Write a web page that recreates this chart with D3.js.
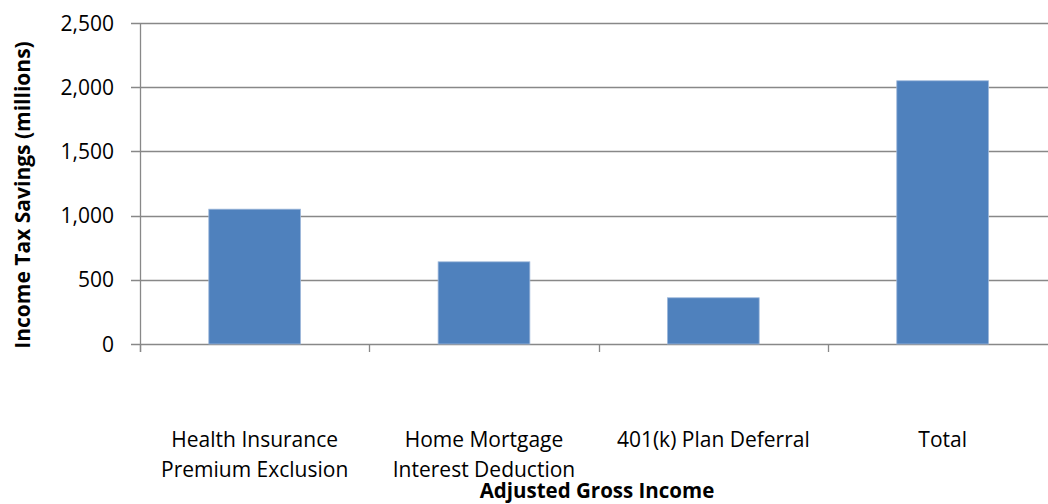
<!DOCTYPE html>
<html><head><meta charset="utf-8">
<script src="https://cdn.jsdelivr.net/npm/d3@7"></script>
<style>body{margin:0;background:#fff}svg{display:block}text{font-family:"Open Sans",Lato,sans-serif;fill:#000}</style>
</head><body><svg id="c" width="1048" height="504"></svg>
<script>
const categories = ["Health Insurance\nPremium Exclusion", "Home Mortgage\nInterest Deduction", "401(k) Plan Deferral", "Total"];
const values = [1050, 640, 360, 2050];
const yTicks = [0, 500, 1000, 1500, 2000, 2500];
const yTitle = "Income Tax Savings (millions)";
const xTitle = "Adjusted Gross Income";

(function () {
const svg = d3.select("#c");
const pLeft = 140, pRight = 1057.3, pTop = 23, pBottom = 344;
const x = d3.scaleBand().domain(categories).range([pLeft, pRight]).paddingInner(0.6).paddingOuter(0.3);
const y = d3.scaleLinear().domain([0, 2500]).range([pBottom, pTop]);
const fmt = d3.format(",");

svg.append("g").selectAll("line").data(yTicks).join("line")
  .attr("x1", pLeft - 9).attr("x2", 1048)
  .attr("y1", d => Math.round(y(d)) + 0.5).attr("y2", d => Math.round(y(d)) + 0.5)
  .attr("stroke", "#888").attr("stroke-width", 1.3);

svg.append("g").selectAll("text").data(yTicks).join("text")
  .attr("x", 114).attr("y", d => y(d)).attr("dy", "0.36em")
  .attr("text-anchor", "end").style("font-size", "21px").text(d => fmt(d));

svg.append("g").selectAll("rect").data(values).join("rect")
  .attr("x", (d, i) => x(categories[i])).attr("width", x.bandwidth())
  .attr("y", d => y(d)).attr("height", d => y(0) - y(d))
  .attr("fill", "#4F81BD").attr("stroke", "#9db7da").attr("stroke-width", 0.8);

svg.append("line").attr("x1", pLeft + 0.5).attr("x2", pLeft + 0.5).attr("y1", pTop).attr("y2", pBottom + 8)
  .attr("stroke", "#888").attr("stroke-width", 1.3);

const step = x.step();
const bounds = d3.range(categories.length + 1).map(i => pLeft + i * step);
svg.append("g").selectAll("line").data(bounds).join("line")
  .attr("x1", d => Math.round(d) + 0.5).attr("x2", d => Math.round(d) + 0.5)
  .attr("y1", pBottom).attr("y2", pBottom + 8)
  .attr("stroke", "#888").attr("stroke-width", 1.3);

const cl = svg.append("g").selectAll("text").data(categories).join("text")
  .attr("text-anchor", "middle").style("font-size", "21px")
  .attr("transform", d => `translate(${x(d) + x.bandwidth() / 2},447)`);
cl.selectAll("tspan").data(d => d.split("\n")).join("tspan")
  .attr("x", 0).attr("y", (d, i) => i * 30).text(d => d);

svg.append("text").attr("x", 597).attr("y", 498).attr("text-anchor", "middle")
  .style("font-size", "20.5px").style("font-weight", "bold").text(xTitle);
svg.append("text").attr("transform", "translate(30,195) rotate(-90)").attr("text-anchor", "middle")
  .style("font-size", "21px").style("font-weight", "bold").text(yTitle);
})();
</script></body></html>
